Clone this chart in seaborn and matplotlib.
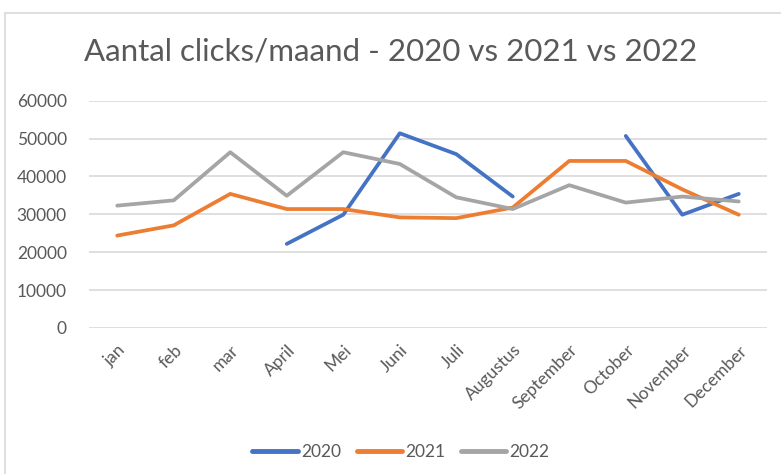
import numpy as np
import pandas as pd
import matplotlib
matplotlib.use("Agg")
import matplotlib.pyplot as plt
import seaborn as sns
from matplotlib.patches import Rectangle

months = ["jan", "feb", "mar", "April", "Mei", "Juni", "Juli", "Augustus",
          "September", "October", "November", "December"]
years = ["2020", "2021", "2022"]
clicks_2020 = [np.nan, np.nan, np.nan, 22200, 29900, 51400, 45900, 34700,
               np.nan, 50700, 29900, 35400]
clicks_2021 = [24400, 27100, 35400, 31400, 31400, 29200, 29000, 31800,
               44100, 44100, 36600, 29900]
clicks_2022 = [32300, 33700, 46400, 34900, 46400, 43300, 34500, 31400,
               37700, 33100, 34700, 33400]

colors = {"2020": "#4472C4", "2021": "#ED7D31", "2022": "#A5A5A5"}

# long table; a new segment starts after every gap so lines break there
rows = []
for year, vals in zip(years, [clicks_2020, clicks_2021, clicks_2022]):
    seg = 0
    prev_nan = False
    for i, v in enumerate(vals):
        if np.isnan(v):
            prev_nan = True
            continue
        if prev_nan:
            seg += 1
            prev_nan = False
        rows.append({"pos": i, "year": year, "clicks": v, "seg": f"{year}_{seg}"})
df = pd.DataFrame(rows)

sns.set_style("white")
plt.rcParams["font.family"] = ["Lato", "DejaVu Sans"]
txt = "#595959"

fig = plt.figure(figsize=(7.81, 4.74), dpi=100)
ax = fig.add_axes([89 / 781, 1 - 328 / 474, (767 - 89) / 781, (328 - 100.7) / 474])

sns.lineplot(data=df, x="pos", y="clicks", hue="year", units="seg",
             estimator=None, palette=colors, linewidth=2.7, ax=ax,
             legend=False, sort=True)

ax.set_xlim(-0.5, 11.5)
ax.set_ylim(0, 60000)
ax.set_yticks(range(0, 60001, 10000))
ax.set_yticklabels([str(v) for v in range(0, 60001, 10000)], color=txt, fontsize=12.5)
ax.set_xticks(range(len(months)))
ax.set_xticklabels(months, rotation=45, ha="right", rotation_mode="anchor",
                   color=txt, fontsize=12.5)
ax.tick_params(axis="x", length=0, pad=10)
ax.tick_params(axis="y", length=0, pad=16)
ax.grid(axis="y", color="#D9D9D9", linewidth=1.2)
ax.set_axisbelow(True)
for s in ax.spines.values():
    s.set_visible(False)
ax.set_xlabel("")
ax.set_ylabel("")

# legend
handles = [plt.Line2D([0], [0], color=colors[y], linewidth=3.5) for y in years]
fig.legend(handles, years, loc="center", bbox_to_anchor=(401 / 781, 1 - 452 / 474),
           ncol=3, frameon=False, fontsize=12.5, handlelength=2.6,
           handletextpad=0.2, columnspacing=0.9, labelcolor=txt)

fig.text(391 / 781, 1 - 52 / 474, "Aantal clicks/maand - 2020 vs 2021 vs 2022",
         ha="center", va="center", fontsize=22.5, color=txt)

# chart frame
fig.patches.append(Rectangle((5 / 781, -0.1), 1.2, 1 - 13 / 474 + 0.1,
                             transform=fig.transFigure, fill=False,
                             edgecolor="#D9D9D9", linewidth=1.2))

fig.savefig("out.png", dpi=100)
